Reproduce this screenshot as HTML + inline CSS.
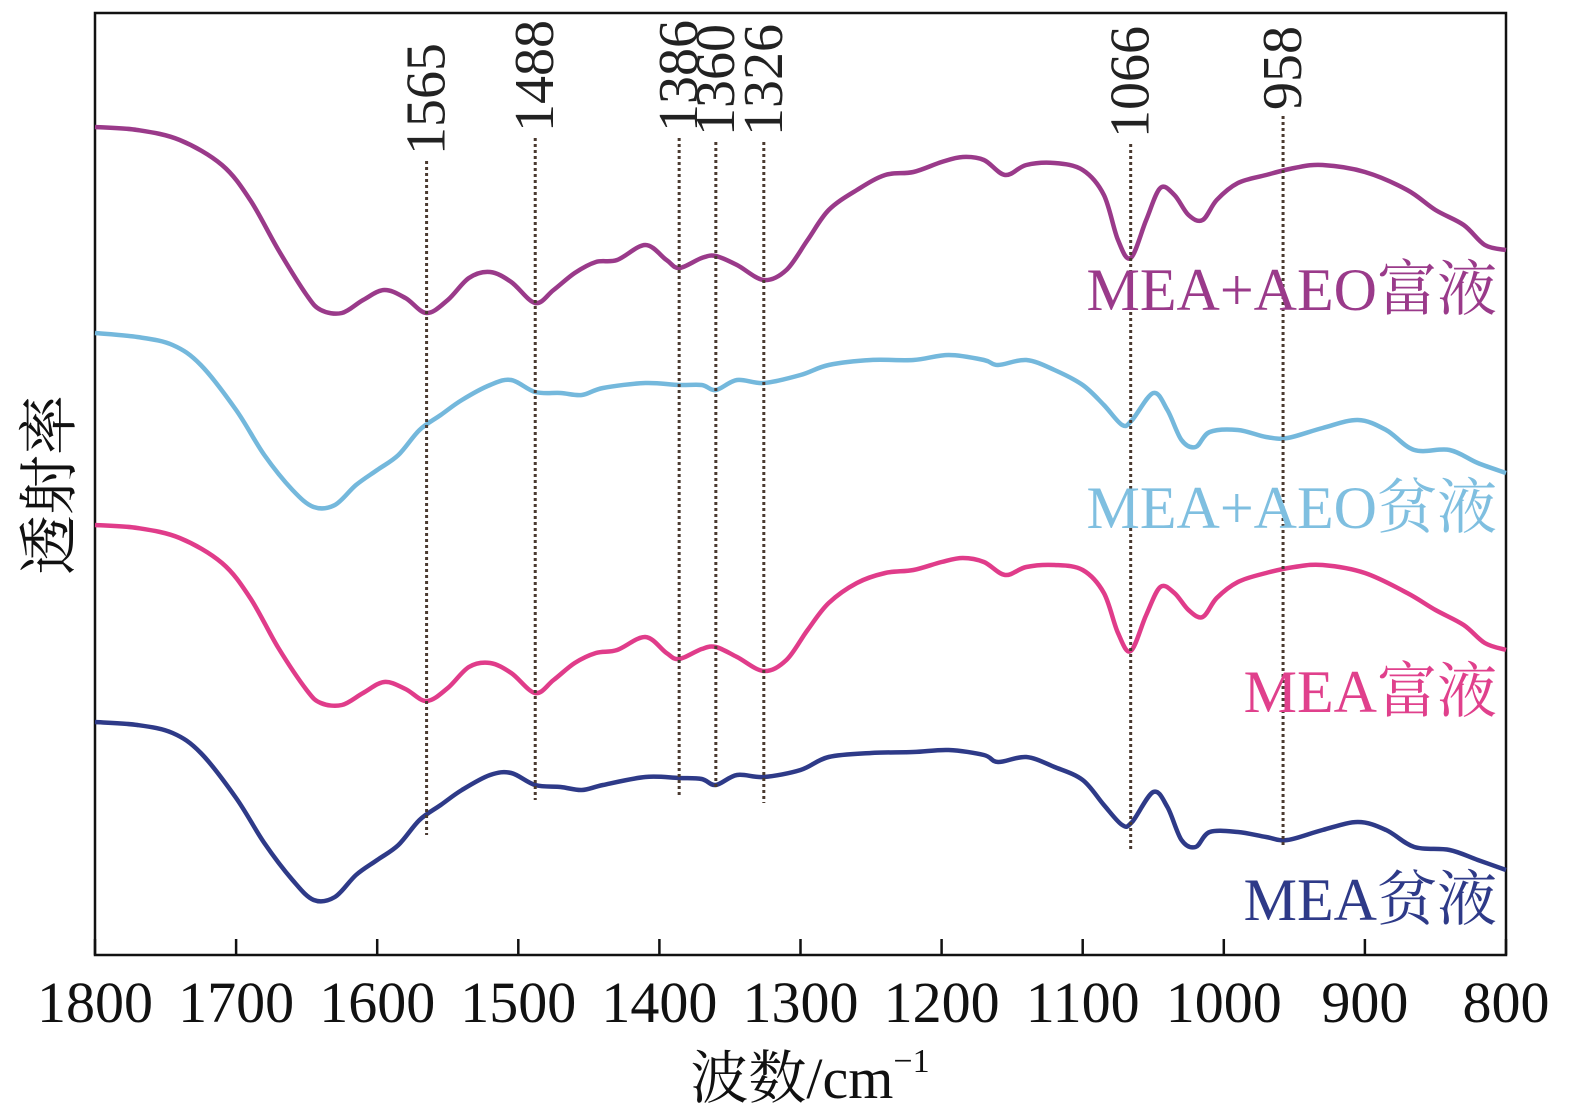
<!DOCTYPE html>
<html><head><meta charset="utf-8">
<style>
html,body{margin:0;padding:0;background:#fff;}
svg{display:block;}
text{font-family:"Liberation Serif","Noto Serif CJK SC",serif;}
</style></head>
<body>
<svg id="chart" width="1569" height="1117" viewBox="0 0 1569 1117" xmlns="http://www.w3.org/2000/svg">
<rect x="95" y="13" width="1411" height="942" fill="none" stroke="#111" stroke-width="2.5"/>
<g id="ticks"></g>
<g id="series"></g>
<g id="markers"></g>
<text x="810" y="1098" font-size="58" text-anchor="middle" fill="#111">波数/cm<tspan font-size="34" dy="-26">−1</tspan></text>
<text transform="translate(70,485) rotate(-90)" font-size="60" text-anchor="middle" fill="#111">透射率</text>
<text x="1497" y="310" font-size="60" text-anchor="end" fill="#9a3a8a">MEA+AEO富液</text>
<text x="1497" y="528" font-size="60" text-anchor="end" fill="#7fbfe0">MEA+AEO贫液</text>
<text x="1497" y="712" font-size="60" text-anchor="end" fill="#e0408c">MEA富液</text>
<text x="1497" y="920" font-size="60" text-anchor="end" fill="#2e3a88">MEA贫液</text>
</svg>
<script>
const xTicks=[1800,1700,1600,1500,1400,1300,1200,1100,1000,900,800];
const peakLabels=[1565,1488,1386,1360,1326,1066,958];
const peakTop=[155,132,132,136,136,138,110];
const peakBottom=[835,800,797,790,803,850,845];
const wnA=[1800,1770,1740,1710,1690,1670,1650,1640,1625,1610,1595,1580,1565,1550,1535,1520,1505,1488,1475,1460,1445,1430,1410,1395,1386,1370,1360,1345,1326,1310,1295,1280,1260,1240,1220,1200,1185,1170,1155,1140,1120,1100,1085,1075,1066,1055,1045,1035,1025,1015,1005,990,970,950,930,900,870,850,830,815,800];
const richAEO=[828,825,815,790,755,705,660,645,642,655,665,657,642,655,677,683,673,652,665,682,693,695,710,695,687,697,699,690,675,685,715,745,765,780,783,793,798,795,780,790,792,785,760,715,697,735,767,760,740,735,755,772,780,787,790,783,765,745,730,710,705];
const richMEA=[430,427,417,392,357,307,265,252,250,262,273,266,254,267,288,292,282,262,275,292,302,305,318,302,296,306,308,298,284,295,325,352,372,382,385,393,397,393,380,388,390,385,362,322,304,340,368,362,345,338,357,373,382,388,390,382,362,345,330,312,305];
const wnB=[1800,1770,1745,1725,1700,1680,1660,1645,1630,1615,1600,1585,1570,1555,1540,1520,1505,1488,1470,1455,1440,1410,1386,1370,1360,1345,1326,1300,1280,1250,1220,1195,1170,1160,1140,1120,1100,1085,1072,1065,1050,1040,1030,1020,1010,990,970,955,930,905,885,865,840,820,800];
const leanAEO=[622,618,610,590,545,500,465,448,450,470,485,500,525,540,555,570,575,563,562,560,567,572,570,570,565,575,572,580,590,595,595,600,595,590,595,585,570,550,530,535,562,545,515,508,523,525,518,517,527,535,525,505,505,492,482];
const leanMEA=[233,230,222,202,157,112,75,55,58,80,95,110,135,150,165,180,182,170,168,165,170,178,177,176,170,180,178,185,198,202,203,205,200,193,198,188,175,150,130,133,163,148,115,108,123,123,118,115,125,133,125,108,105,95,85];
const X0=95,X1=1506,Y0=955,Y1=13;
function sx(w){return X0+(1800-w)*(X1-X0)/1000;}
function sy(v){return Y0-v*(Y0-Y1)/942;}
const NS="http://www.w3.org/2000/svg";
const tg=document.getElementById('ticks');
xTicks.forEach(t=>{
 const l=document.createElementNS(NS,'line');
 
 
 l.setAttribute('x1',sx(t));l.setAttribute('x2',sx(t));l.setAttribute('y1',Y0);l.setAttribute('y2',Y0-16);
 l.setAttribute('stroke','#111');l.setAttribute('stroke-width','2.5');tg.appendChild(l);
 const tx=document.createElementNS(NS,'text');
 
 
 tx.setAttribute('x',sx(t));tx.setAttribute('y',1022);tx.setAttribute('font-size','58');tx.setAttribute('text-anchor','middle');tx.setAttribute('fill','#111');
 tx.textContent=t;tg.appendChild(tx);
});
function path(xs,ys){
 const p=xs.map((w,i)=>[sx(w),sy(ys[i])]);
 let d='M'+p[0][0]+','+p[0][1];
 for(let i=0;i<p.length-1;i++){
  const a=p[Math.max(0,i-1)],b=p[i],c=p[i+1],e=p[Math.min(p.length-1,i+2)];
  const c1=[b[0]+(c[0]-a[0])/6,b[1]+(c[1]-a[1])/6],c2=[c[0]-(e[0]-b[0])/6,c[1]-(e[1]-b[1])/6];
  d+=' C'+c1[0].toFixed(1)+','+c1[1].toFixed(1)+' '+c2[0].toFixed(1)+','+c2[1].toFixed(1)+' '+c[0].toFixed(1)+','+c[1].toFixed(1);
 }
 return d;
}
const sg=document.getElementById('series');
function addSeries(name,xs,ys,color){
 const pa=document.createElementNS(NS,'path');
 
 
 pa.setAttribute('d',path(xs,ys));pa.setAttribute('fill','none');pa.setAttribute('stroke',color);pa.setAttribute('stroke-width','4.5');pa.setAttribute('stroke-linejoin','round');
 sg.appendChild(pa);
}
addSeries('series-mea-aeo-rich',wnA,richAEO,'#9a3a8a');
addSeries('series-mea-aeo-lean',wnB,leanAEO,'#74b8dc');
addSeries('series-mea-rich',wnA,richMEA,'#e03c8a');
addSeries('series-mea-lean',wnB,leanMEA,'#2e3a88');
const mg=document.getElementById('markers');
peakLabels.forEach((p,i)=>{
 const l=document.createElementNS(NS,'line');
 
 
 l.setAttribute('x1',sx(p));l.setAttribute('x2',sx(p));l.setAttribute('y1',peakTop[i]+6);l.setAttribute('y2',peakBottom[i]);
 l.setAttribute('stroke','#4a3a30');l.setAttribute('stroke-width','3');l.setAttribute('stroke-dasharray','3 3');mg.appendChild(l);
 const tx=document.createElementNS(NS,'text');
 
 
 tx.setAttribute('transform','translate('+(sx(p)+18)+','+peakTop[i]+') rotate(-90)');
 tx.setAttribute('font-size','56');tx.setAttribute('fill','#222');
 tx.textContent=p;mg.appendChild(tx);
});
</script>
</body></html>
